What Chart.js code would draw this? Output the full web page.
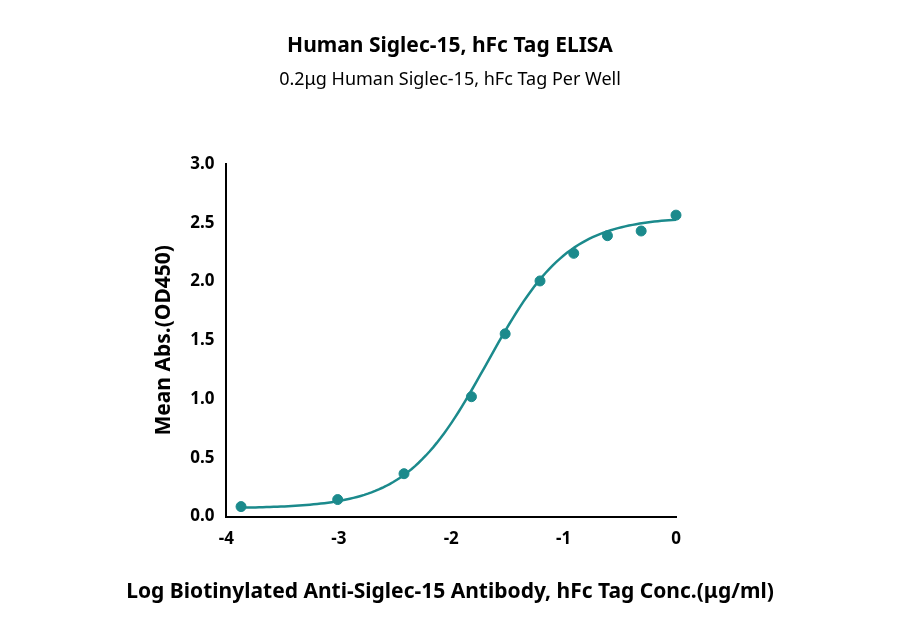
<!DOCTYPE html>
<html><head><script src="https://cdn.jsdelivr.net/npm/chart.js@4"></script>
<style>body{margin:0;background:#fff}#w{width:900px;height:635px}</style></head>
<body><div id="w"><canvas id="c"></canvas></div>
<script>
const logConc=[-3.87,-3.01,-2.42,-1.82,-1.52,-1.21,-0.91,-0.61,-0.31,0];
const meanAbs=[0.085,0.145,0.365,1.02,1.555,2.005,2.24,2.39,2.43,2.565];
const xTicks=[-4,-3,-2,-1,0];
const yTicks=[0,0.5,1.0,1.5,2.0,2.5,3.0];
const fit={bottom:0.07,top:2.55,logEC50:-1.68,hill:1.2};
const curve=[];
for(let i=0;i<=120;i++){const x=-3.87+i*3.87/120;curve.push({x,y:fit.bottom+(fit.top-fit.bottom)/(1+Math.pow(10,fit.hill*(fit.logEC50-x)))});}
const teal='#1b8a8c';
const F='"Noto Sans", sans-serif';
const texts={
 afterDraw(ch){const c=ch.ctx;c.save();c.fillStyle='#000';c.textAlign='center';c.textBaseline='middle';
 c.font='bold 21px '+F;c.fillText('Human Siglec-15, hFc Tag ELISA',450,46);
 c.font='18px '+F;c.fillText('0.2μg Human Siglec-15, hFc Tag Per Well',450,80);
 c.font='bold 21px '+F;c.fillText('Log Biotinylated Anti-Siglec-15 Antibody, hFc Tag Conc.(μg/ml)',450,592);
 c.restore();}};
new Chart(document.getElementById('c'),{
data:{datasets:[
{type:'scatter',data:logConc.map((x,i)=>({x,y:meanAbs[i]})),backgroundColor:teal,borderColor:teal,pointRadius:5,clip:false},
{type:'line',data:curve,borderColor:teal,borderWidth:2.5,pointRadius:0,tension:0,clip:false}
]},
options:{responsive:true,maintainAspectRatio:false,animation:false,
layout:{padding:{left:147,right:224,top:164,bottom:82}},
plugins:{legend:{display:false},tooltip:{enabled:false}},
scales:{
x:{type:'linear',min:-4,max:0,afterBuildTicks:a=>{a.ticks=xTicks.map(v=>({value:v}))},
grid:{display:false,drawTicks:true,tickLength:8,tickWidth:2,tickColor:'#000'},border:{color:'#000',width:2},
ticks:{color:'#000',font:{family:F,size:17,weight:'bold'},padding:4}},
y:{min:0,max:3,afterBuildTicks:a=>{a.ticks=yTicks.map(v=>({value:v}))},
grid:{display:false,tickLength:8,tickWidth:2,tickColor:'#000'},border:{color:'#000',width:2},
ticks:{color:'#000',font:{family:F,size:17,weight:'bold'},callback:v=>v.toFixed(1),padding:4},
title:{display:true,text:'Mean Abs.(OD450)',color:'#000',font:{family:F,size:21,weight:'bold'},padding:{bottom:10}}}
}},plugins:[texts]});
</script></body></html>
